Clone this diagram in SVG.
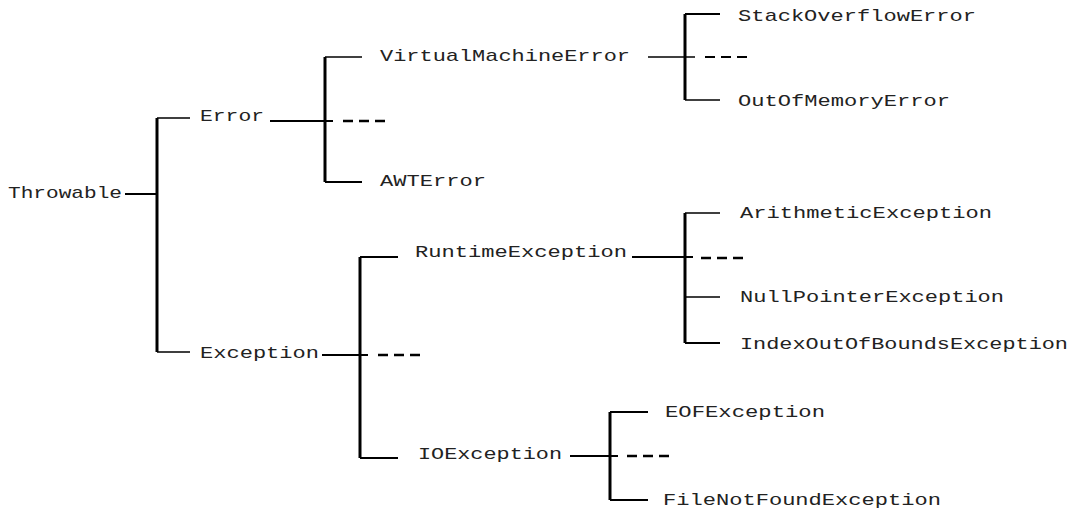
<svg xmlns="http://www.w3.org/2000/svg" width="1076" height="518" viewBox="0 0 1076 518">
<style>
text{font-family:"Liberation Mono","Courier New",monospace;font-size:17px;fill:#222;}
.v{stroke:#000;stroke-width:3;fill:none;}
.h{stroke:#000;stroke-width:2;fill:none;}
.t{stroke:#000;stroke-width:1.5;fill:none;}
.d{stroke:#000;stroke-width:2.5;fill:none;stroke-dasharray:10,6;}
</style>
<rect width="1076" height="518" fill="#fff"/>
<g id="connectors">
<path class="h" d="M125 194H157"/>
<path class="v" d="M157 118V352"/>
<path class="t" d="M157 118H190M157 352H190"/>
<path class="h" d="M270 121H333"/>
<path class="v" d="M325 57V182"/>
<path class="t" d="M325 57H362"/>
<path class="h" d="M325 182H362"/>
<path class="d" d="M343 121H385"/>
<path class="t" d="M648 57H695"/>
<path class="v" d="M685 14V100"/>
<path class="h" d="M685 14H720"/>
<path class="t" d="M685 100H720"/>
<path class="d" d="M705 57H747" style="stroke-width:1.8"/>
<path class="h" d="M322 355H368"/>
<path class="v" d="M360 257V458"/>
<path class="h" d="M360 257H398M360 458H398"/>
<path class="d" d="M378 355H422"/>
<path class="h" d="M632 257H693"/>
<path class="v" d="M685 213V343"/>
<path class="t" d="M685 213H720M685 297H720"/>
<path class="h" d="M685 343H720"/>
<path class="d" d="M701 258H747"/>
<path class="h" d="M570 456H618"/>
<path class="v" d="M610 412V500"/>
<path class="h" d="M610 412H648M610 500H648"/>
<path class="d" d="M627 456H670"/>
</g>
<g id="n-throwable"><text x="8" y="198" textLength="114" lengthAdjust="spacingAndGlyphs">Throwable</text></g>
<g id="n-error"><text x="200" y="121" textLength="64" lengthAdjust="spacingAndGlyphs">Error</text></g>
<g id="n-vme"><text x="380" y="61" textLength="250" lengthAdjust="spacingAndGlyphs">VirtualMachineError</text></g>
<g id="n-awt"><text x="380" y="186" textLength="106" lengthAdjust="spacingAndGlyphs">AWTError</text></g>
<g id="n-soe"><text x="738" y="21" textLength="238" lengthAdjust="spacingAndGlyphs">StackOverflowError</text></g>
<g id="n-oom"><text x="738" y="106" textLength="212" lengthAdjust="spacingAndGlyphs">OutOfMemoryError</text></g>
<g id="n-exception"><text x="200" y="358" textLength="119" lengthAdjust="spacingAndGlyphs">Exception</text></g>
<g id="n-runtime"><text x="415" y="257" textLength="212" lengthAdjust="spacingAndGlyphs">RuntimeException</text></g>
<g id="n-arith"><text x="740" y="218" textLength="252" lengthAdjust="spacingAndGlyphs">ArithmeticException</text></g>
<g id="n-npe"><text x="740" y="302" textLength="264" lengthAdjust="spacingAndGlyphs">NullPointerException</text></g>
<g id="n-ioobe"><text x="740" y="349" textLength="328" lengthAdjust="spacingAndGlyphs">IndexOutOfBoundsException</text></g>
<g id="n-io"><text x="418" y="459" textLength="144" lengthAdjust="spacingAndGlyphs">IOException</text></g>
<g id="n-eof"><text x="665" y="417" textLength="160" lengthAdjust="spacingAndGlyphs">EOFException</text></g>
<g id="n-fnf"><text x="663" y="505" textLength="278" lengthAdjust="spacingAndGlyphs">FileNotFoundException</text></g>
</svg>
